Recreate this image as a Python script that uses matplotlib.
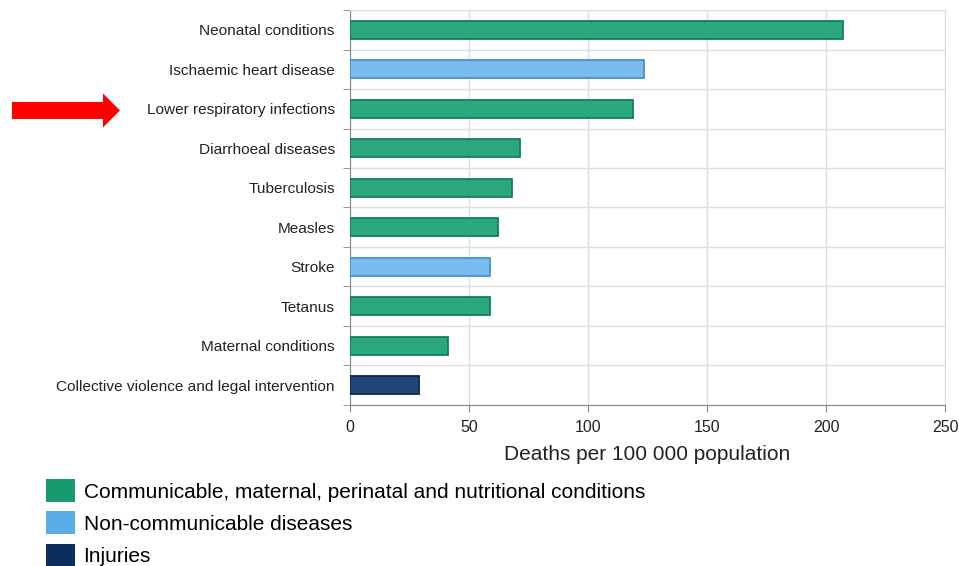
import matplotlib.pyplot as plt
from matplotlib.patches import Patch, FancyArrow
import numpy as np

plt.rcParams['font.family'] = ['Liberation Sans', 'DejaVu Sans']

causes = ["Neonatal conditions", "Ischaemic heart disease", "Lower respiratory infections",
          "Diarrhoeal diseases", "Tuberculosis", "Measles", "Stroke", "Tetanus",
          "Maternal conditions", "Collective violence and legal intervention"]
deaths = [207, 123.5, 119, 71.5, 68, 62, 59, 59, 41, 29]
group = ["cmp", "ncd", "cmp", "cmp", "cmp", "cmp", "ncd", "cmp", "cmp", "inj"]

group_names = ["Communicable, maternal, perinatal and nutritional conditions",
               "Non-communicable diseases", "Injuries"]
colors = {"cmp": "#2aa87c", "ncd": "#78bdee", "inj": "#21467a"}
edges = {"cmp": "#12805a", "ncd": "#4a90c8", "inj": "#0f2648"}
legend_colors = ["#179b6e", "#5aaee6", "#0c2d5c"]

fig = plt.figure(figsize=(9.59, 5.66), dpi=100)
ax = fig.add_axes([0.365, 0.2845, 0.6205, 0.6978])

y = np.arange(len(causes))
ax.barh(y, deaths, height=0.45,
        color=[colors[g] for g in group],
        edgecolor=[edges[g] for g in group], linewidth=1.3, zorder=3)

ax.set_ylim(len(causes) - 0.5, -0.5)
ax.set_xlim(0, 250)
ax.set_xticks([0, 50, 100, 150, 200, 250])
ax.set_yticks(y)
ax.set_yticklabels(causes, fontsize=11.1, color="#222222")
ax.set_yticks(np.arange(-0.5, len(causes)), minor=True)
ax.tick_params(axis='y', which='major', length=0, pad=11)
ax.tick_params(axis='y', which='minor', length=5, color="#888888")
ax.tick_params(axis='x', length=5, color="#888888", labelsize=11.5, labelcolor="#222222", pad=6)
ax.grid(True, which='minor', axis='y', color="#dddddd", lw=1, zorder=0)
ax.grid(True, which='major', axis='x', color="#dddddd", lw=1, zorder=0)
ax.set_xlabel("Deaths per 100 000 population", fontsize=15, color="#222222", labelpad=7)

for s in ["top", "right"]:
    ax.spines[s].set_color("#dddddd")
for s in ["left", "bottom"]:
    ax.spines[s].set_color("#888888")

handles = [Patch(facecolor=c, edgecolor='none') for c in legend_colors]
fig.legend(handles, group_names, loc='upper left', bbox_to_anchor=(0.048, 0.153),
           frameon=False, fontsize=15, handlelength=1.4, handleheight=1.3,
           handletextpad=0.4, labelspacing=0.45, borderaxespad=0, borderpad=0)

fig.patches.append(FancyArrow(0.0125, 0.8048, 0.1126, 0, width=0.030, head_width=0.060,
                              head_length=0.0177, length_includes_head=True,
                              color="#ff0000", lw=0, transform=fig.transFigure, figure=fig))

plt.savefig("out.png", dpi=100)
